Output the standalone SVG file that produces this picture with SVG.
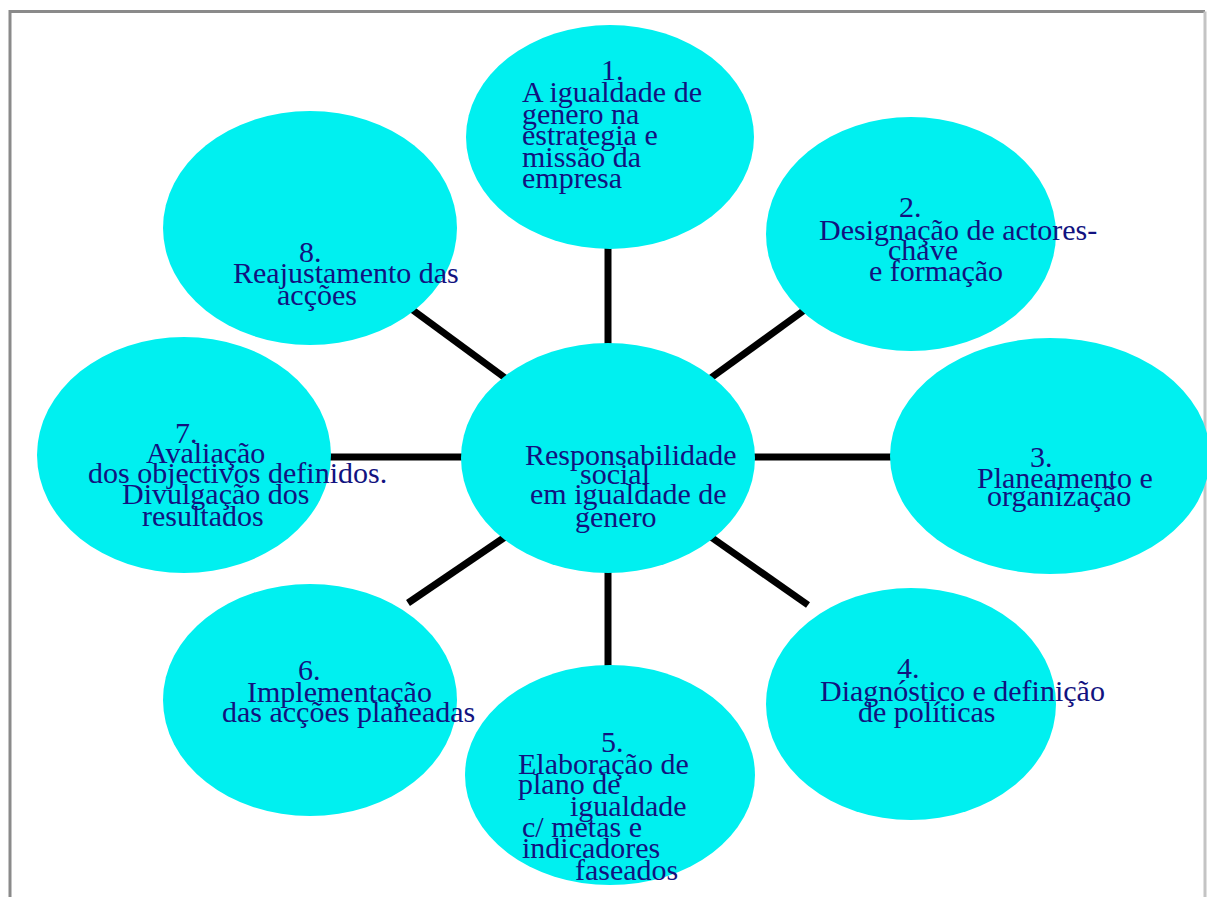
<svg xmlns="http://www.w3.org/2000/svg" width="1207" height="897" viewBox="0 0 1207 897">
<style>
.n{fill:#00f0f0;stroke:none}
.c{stroke:#000;stroke-width:7;fill:none}
text{font-family:"Liberation Serif","Times New Roman",serif;font-size:30px;fill:#12127f}
</style>
<rect x="0" y="0" width="1207" height="897" fill="#fff"/>
<path d="M10 900 V11.5 H1205" fill="none" stroke="#8a8a8a" stroke-width="3"/>
<path d="M1205 11.5 V900" fill="none" stroke="#c4c4c4" stroke-width="3"/>
<g id="connectors">
<line class="c" x1="608" y1="248" x2="608" y2="352"/>
<line class="c" x1="810" y1="306" x2="708" y2="380"/>
<line class="c" x1="750" y1="457" x2="895" y2="457"/>
<line class="c" x1="708" y1="535" x2="808" y2="605"/>
<line class="c" x1="608" y1="572" x2="608" y2="668"/>
<line class="c" x1="508" y1="535" x2="408" y2="603"/>
<line class="c" x1="328" y1="457" x2="466" y2="457"/>
<line class="c" x1="410" y1="308" x2="508" y2="380"/>
</g>
<g id="center">
<ellipse class="n" cx="608" cy="458" rx="147" ry="115"/>
<text x="525" y="465">Responsabilidade</text>
<text x="580" y="484">social</text>
<text x="530" y="504">em igualdade de</text>
<text x="575" y="527">genero</text>
</g>
<g id="node1">
<ellipse class="n" cx="610" cy="137" rx="144" ry="112"/>
<text x="601" y="80">1.</text>
<text x="522" y="102">A igualdade de</text>
<text x="522" y="124">genero na</text>
<text x="522" y="145">estrategia e</text>
<text x="522" y="167">missão da</text>
<text x="522" y="188">empresa</text>
</g>
<g id="node2">
<ellipse class="n" cx="911" cy="234" rx="145" ry="117"/>
<text x="899" y="217">2.</text>
<text x="819" y="240">Designação de actores-</text>
<text x="888" y="260">chave</text>
<text x="869" y="281">e formação</text>
</g>
<g id="node3">
<ellipse class="n" cx="1050" cy="456" rx="160" ry="118"/>
<text x="1030" y="467">3.</text>
<text x="977" y="488">Planeamento e</text>
<text x="987" y="506">organização</text>
</g>
<g id="node4">
<ellipse class="n" cx="911" cy="704" rx="145" ry="116"/>
<text x="897" y="678">4.</text>
<text x="820" y="701">Diagnóstico e definição</text>
<text x="858" y="722">de políticas</text>
</g>
<g id="node5">
<ellipse class="n" cx="610" cy="775" rx="145" ry="110"/>
<text x="601" y="752">5.</text>
<text x="518" y="774">Elaboração de</text>
<text x="518" y="794">plano de</text>
<text x="570" y="816">igualdade</text>
<text x="522" y="837">c/ metas e</text>
<text x="522" y="858">indicadores</text>
<text x="575" y="880">faseados</text>
</g>
<g id="node6">
<ellipse class="n" cx="310" cy="700" rx="147" ry="116"/>
<text x="298" y="680">6.</text>
<text x="247" y="702">Implementação</text>
<text x="222" y="722">das acções planeadas</text>
</g>
<g id="node7">
<ellipse class="n" cx="184" cy="455" rx="147" ry="118"/>
<text x="175" y="443">7.</text>
<text x="146" y="463">Avaliação</text>
<text x="88" y="483">dos objectivos definidos.</text>
<text x="122" y="504">Divulgação dos</text>
<text x="142" y="526">resultados</text>
</g>
<g id="node8">
<ellipse class="n" cx="310" cy="228" rx="147" ry="117"/>
<text x="299" y="262">8.</text>
<text x="233" y="283">Reajustamento das</text>
<text x="277" y="305">acções</text>
</g>
</svg>
